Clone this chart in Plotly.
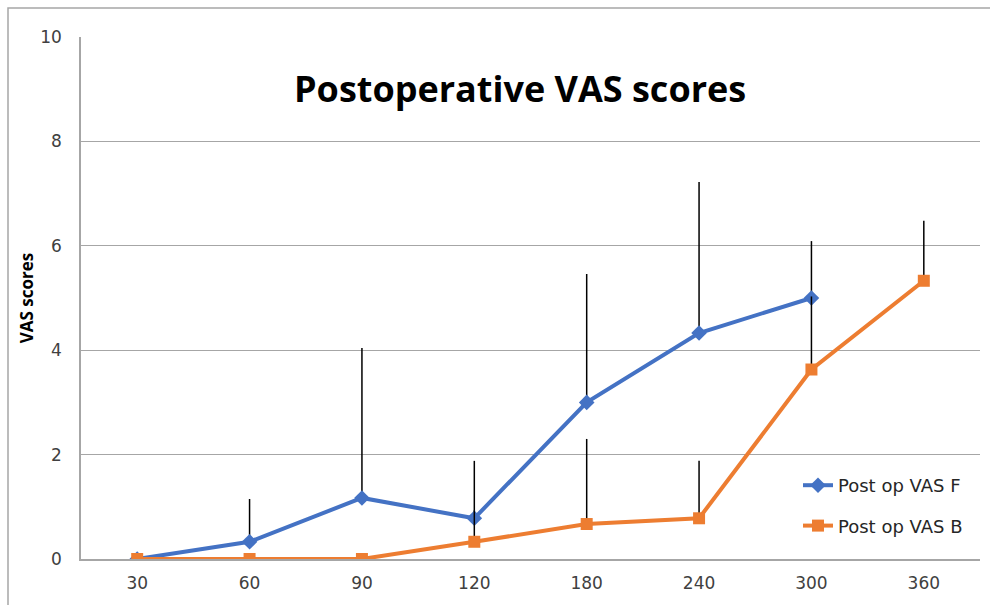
import plotly.graph_objects as go

categories = ["30", "60", "90", "120", "180", "240", "300", "360"]
vas_f = [0, 0.33, 1.17, 0.78, 3.0, 4.33, 5.0]
vas_f_err = [0, 0.82, 2.87, 1.1, 2.46, 2.89, 1.09]
vas_b = [0, 0, 0, 0.33, 0.67, 0.78, 3.63, 5.33]
vas_b_err = [0, 0, 0, 0.6, 1.63, 1.1, 1.4, 1.15]
y_ticks = [0, 2, 4, 6, 8, 10]

W, H = 990, 605
ML, MR, MT, MB = 81, 10, 37, 46
pw, ph = W - ML - MR, H - MT - MB


def px_x(px):
    return (px - ML) / pw


def px_y(py):
    return (H - MB - py) / ph


fig = go.Figure()
fig.add_trace(go.Scatter(
    x=categories[:len(vas_f)], y=vas_f, name="Post op VAS F",
    mode="lines+markers", legendgroup="f",
    line=dict(color="#4472C4", width=4),
    marker=dict(symbol="diamond", size=12, color="#4472C4"),
    error_y=dict(type="data", symmetric=False, array=vas_f_err,
                 arrayminus=[0] * len(vas_f), color="black", thickness=1.5, width=0),
))
fig.add_trace(go.Scatter(
    x=categories, y=vas_b, name="Post op VAS B",
    mode="lines+markers", legendgroup="b",
    line=dict(color="#ED7D31", width=4),
    marker=dict(symbol="square", size=12, color="#ED7D31"),
    error_y=dict(type="data", symmetric=False, array=vas_b_err,
                 arrayminus=[0] * len(vas_b), color="black", thickness=1.5, width=0),
))

fig.add_shape(type="rect", xref="paper", yref="paper",
              x0=px_x(8), x1=px_x(1000), y0=px_y(615), y1=px_y(8),
              line=dict(color="#A6A6A6", width=1.5), layer="below")

fig.add_annotation(text="<b>Postoperative VAS scores</b>", xref="paper", yref="paper",
                   x=px_x(520), y=px_y(88), showarrow=False,
                   font=dict(family="Open Sans", size=36, color="black"),
                   xanchor="center", yanchor="middle")

fig.update_layout(
    width=W, height=H,
    margin=dict(l=ML, r=MR, t=MT, b=MB, autoexpand=False),
    paper_bgcolor="white", plot_bgcolor="white",
    font=dict(family="DejaVu Sans", size=17, color="#404040"),
    showlegend=True,
    legend=dict(x=px_x(798), y=px_y(467), xanchor="left", yanchor="top",
                font=dict(family="DejaVu Sans", size=18, color="#262626"),
                tracegroupgap=14, bgcolor="rgba(0,0,0,0)"),
    xaxis=dict(type="category", categoryorder="array", categoryarray=categories,
               range=[-0.5, 7.5], showgrid=False, showline=True, automargin=False,
               linecolor="#A6A6A6", linewidth=1.5, ticks="", zeroline=False,
               ticklabelstandoff=8,
               tickfont=dict(family="DejaVu Sans", size=17, color="#404040")),
    yaxis=dict(range=[0, 10], tickvals=y_ticks, showgrid=True, automargin=False,
               gridcolor="#A6A6A6", gridwidth=1, showline=True,
               linecolor="#A6A6A6", linewidth=1.5, zeroline=False, ticks="",
               ticklabelstandoff=14,
               tickfont=dict(family="DejaVu Sans", size=17, color="#404040"),
               title=dict(text="<b>VAS scores</b>", standoff=2,
                          font=dict(family="Open Sans", size=17, color="black"))),
)

fig.write_html("out.html", config={"displayModeBar": False},
               post_script="document.body.style.margin='0';")
